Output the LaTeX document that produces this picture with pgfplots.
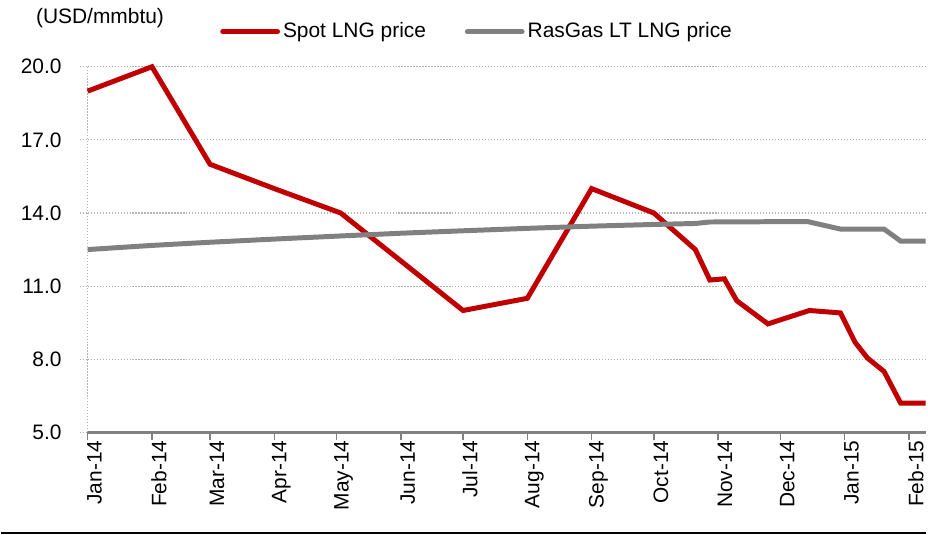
\documentclass[border=0pt]{standalone}
\usepackage{fontspec}
\setmainfont{Liberation Sans}
\usepackage{pgfplots}
\pgfplotsset{compat=1.18}
\definecolor{spot}{HTML}{C00000}
\definecolor{ras}{HTML}{808080}
\definecolor{gridc}{HTML}{B4B4B4}

\begin{document}
\fontsize{21pt}{25pt}\selectfont
\begin{tikzpicture}
\begin{axis}[
  scale only axis, width=841pt, height=367pt,
  xmin=0, xmax=404, ymin=5, ymax=20,
  clip=false,
  axis x line*=bottom, axis y line*=left,
  x axis line style={ras, line width=2.5pt, -},
  y axis line style={gridc, dash pattern=on 1.2pt off 1.8pt, line width=1.2pt, -},
  ytick={5,8,11,14,17,20},
  yticklabel={\pgfmathprintnumber[fixed,fixed zerofill,precision=1]{\tick}},
  xtick={0,31,59,90,120,151,181,212,243,273,304,334,365,396},
  xticklabels={Jan-14,Feb-14,Mar-14,Apr-14,May-14,Jun-14,Jul-14,Aug-14,Sep-14,Oct-14,Nov-14,Dec-14,Jan-15,Feb-15},
  tick align=outside, major tick length=8pt,
  xtick style={ras, line width=1.5pt},
  ytick style={gridc, dash pattern=on 1.2pt off 1.8pt, line width=1.2pt},
  ymajorgrids, y grid style={gridc, dash pattern=on 1.2pt off 1.8pt, line width=1.2pt},
  /pgf/number format/assume math mode=true,
  ticklabel style={font=\fontsize{21pt}{25pt}\selectfont},
  xticklabel style={rotate=90, anchor=east, inner sep=0pt, yshift=-7pt},
  yticklabel style={anchor=east, inner sep=0pt, xshift=-18pt},
  legend style={draw=none, fill=none, inner sep=0pt, at={(0.158,1.0954)}, anchor=west,
    legend columns=2, font=\fontsize{21pt}{25pt}\selectfont,
    /tikz/every even column/.append style={column sep=36pt},
    nodes={inner xsep=3pt, inner ysep=0pt}},
  legend image code/.code={\draw[#1, line cap=round] (0pt,0pt) -- (55pt,0pt);},
]
\addplot[spot, line width=5pt, line join=miter] coordinates {
(0,19.0) (31,20.0) (59,16.0) (90,15.0) (122,14.0) (181,10.0) (212,10.5)
(243,15.0) (273,14.0) (293,12.5) (300,11.25) (307,11.3) (313,10.4)
(328,9.45) (348,10.0) (363,9.9) (370,8.7) (376,8.05) (384,7.5)
(392,6.2) (404,6.2)};
\addlegendentry{Spot LNG price}
\addplot[ras, line width=5pt] coordinates {
(0,12.5) (31,12.67) (59,12.8) (90,12.93) (120,13.05) (151,13.17) (181,13.27)
(212,13.37) (243,13.46) (273,13.53) (293,13.57) (300,13.63) (347,13.65)
(363,13.34) (384,13.34) (392,12.85) (404,12.85)};
\addlegendentry{RasGas LT LNG price}
\node[anchor=west, inner sep=0pt, font=\fontsize{21pt}{25pt}\selectfont] at (rel axis cs:-0.0618,1.1335) {(USD/mmbtu)};
\end{axis}
\draw[black, line width=2pt] ([xshift=-87pt,yshift=-101.5pt]current axis.south west) -- ([yshift=-101.5pt]current axis.south east);
\path ([xshift=-87pt,yshift=-103pt]current axis.south west) rectangle ([yshift=67pt]current axis.north east);
\end{tikzpicture}
\end{document}
